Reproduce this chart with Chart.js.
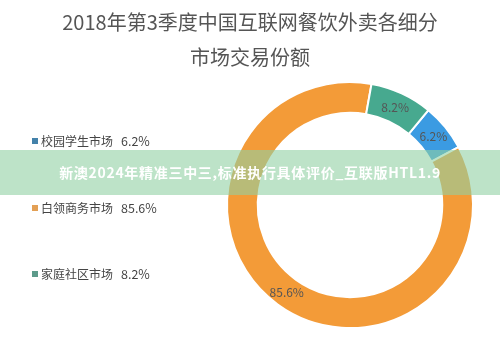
<!DOCTYPE html>
<html>
<head>
<meta charset="utf-8">
<script src="https://cdn.jsdelivr.net/npm/chart.js@4/dist/chart.umd.min.js"></script>
<style>
  html, body { margin: 0; padding: 0; background: #fff; }
  #wrap { position: relative; width: 500px; height: 348px; overflow: hidden; }
  #chart { position: absolute; left: 0; top: 0; }
  .title {
    position: absolute; left: 0; width: 500px; text-align: center;
    font-family: "Noto Sans CJK SC", sans-serif; font-size: 20px; color: #555;
    line-height: 24px;
  }
  #banner {
    position: absolute; left: 0; top: 150px; width: 500px; height: 45px;
    background: rgba(145, 208, 163, 0.6);
    color: #fff; font-family: "Noto Sans CJK SC", sans-serif; font-weight: bold;
    font-size: 14px; line-height: 45px; text-align: center; letter-spacing: 0.7px;
  }
</style>
</head>
<body>
<div id="wrap">
  <canvas id="chart" width="500" height="348"></canvas>
  <div class="title" style="top:10px">2018年第3季度中国互联网餐饮外卖各细分</div>
  <div class="title" style="top:45px">市场交易份额</div>
  <div id="banner">新澳2024年精准三中三,标准执行具体评价_互联版HTL1.9</div>
</div>
<script>
const categories = ["校园学生市场", "白领商务市场", "家庭社区市场"];
const shares = [6.2, 85.6, 8.2];
const sliceColors = ["#3b9be2", "#f39b38", "#47a98f"];
const legendColors = ["#4482aa", "#e3a055", "#5d9b8b"];

const fontFamily = '"Noto Sans CJK SC", sans-serif';

// legend on the left, drawn from the same arrays
const sideLegend = {
  id: "sideLegend",
  afterDraw(chart) {
    const ctx = chart.ctx;
    const rows = [141, 208, 274];
    ctx.save();
    ctx.textBaseline = "middle";
    categories.forEach((name, i) => {
      const y = rows[i];
      ctx.fillStyle = legendColors[i];
      ctx.fillRect(32, y - 3, 6, 6);
      ctx.fillStyle = "#444";
      ctx.font = "12px " + fontFamily;
      ctx.fillText(name, 41, y);
      ctx.font = "12.5px " + fontFamily;
      ctx.fillText(shares[i].toFixed(1) + "%", 121, y);
    });
    ctx.restore();
  },
};

// percent labels at each arc's centre
const arcLabels = {
  id: "arcLabels",
  afterDatasetsDraw(chart) {
    const ctx = chart.ctx;
    const meta = chart.getDatasetMeta(0);
    ctx.save();
    ctx.font = "12px " + fontFamily;
    ctx.fillStyle = "#555";
    ctx.textAlign = "center";
    ctx.textBaseline = "middle";
    meta.data.forEach((arc, i) => {
      const p = arc.tooltipPosition();
      ctx.fillText(shares[i].toFixed(1) + "%", p.x, p.y);
    });
    ctx.restore();
  },
};

const ctx = document.getElementById("chart").getContext("2d");
new Chart(ctx, {
  type: "doughnut",
  data: {
    labels: categories,
    datasets: [
      {
        data: shares,
        backgroundColor: sliceColors,
        borderColor: "#fff",
        borderWidth: 2,
      },
    ],
  },
  options: {
    responsive: false,
    animation: false,
    rotation: 39.6,
    cutout: "75%",
    layout: { padding: { left: 226, right: 26, top: 81, bottom: 19 } },
    plugins: {
      legend: { display: false },
      tooltip: { enabled: false },
      title: { display: false },
    },
  },
  plugins: [arcLabels, sideLegend],
});
</script>
</body>
</html>
